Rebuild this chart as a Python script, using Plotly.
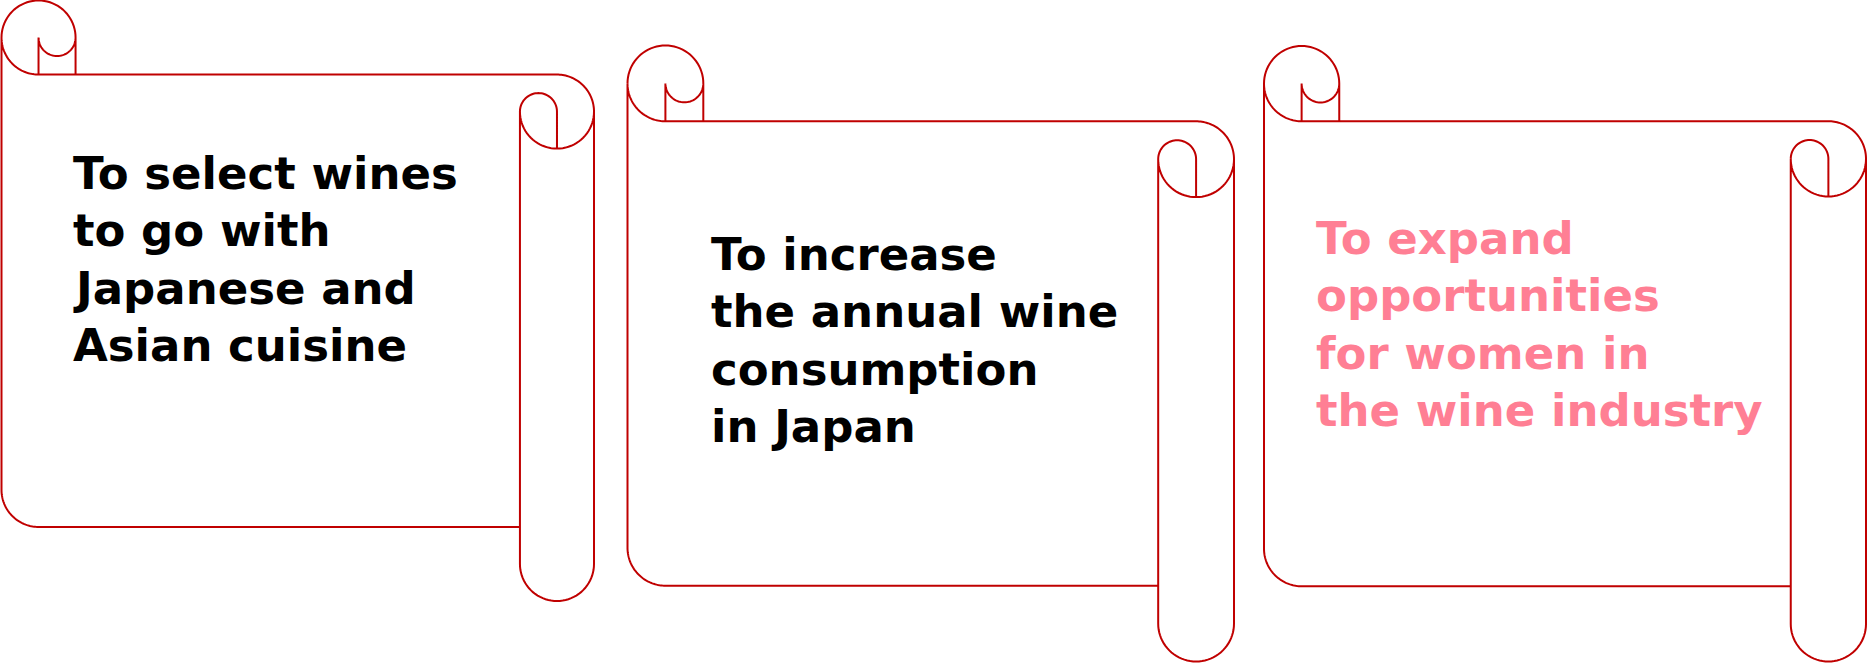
import math
import plotly.graph_objects as go

# three scroll cards: bounding boxes (left, top, right, bottom) in page pixels
scroll_boxes = [
    (1.5, 0.5, 594, 601),
    (627.5, 45.5, 1234, 661.5),
    (1264, 46, 1866, 661.5),
]

card_lines = [
    ["To select wines", "to go with", "Japanese and", "Asian cuisine"],
    ["To increase", "the annual wine", "consumption", "in Japan"],
    ["To expand", "opportunities", "for women in", "the wine industry"],
]
card_colors = ["#000000", "#000000", "#FF7F94"]
text_left = [71, 709, 1314]
first_baseline = [188, 269, 253]

LINE = "#C00000"
W, H = 1867, 663
FONT_SIZE = 45
LINE_GAP = 57.3


def arc(cx, cy, r, a0, a1, n=40):
    pts = []
    for i in range(n + 1):
        a = math.radians(a0 + (a1 - a0) * i / n)
        pts.append((cx + r * math.cos(a), cy + r * math.sin(a)))
    return pts


def seg(pts, move=False):
    out = []
    for i, (x, y) in enumerate(pts):
        cmd = "M" if (move and i == 0) else "L"
        out.append(f"{cmd}{x:.2f},{y:.2f}")
    return " ".join(out)


def scroll_path(x0, y0, x1, y1):
    w, h = x1 - x0, y1 - y0
    c = 0.125 * min(w, h)
    c2, c4 = c / 2, c / 4

    def P(x, y):
        return (x0 + x, y0 + y)

    def A(cx, cy, r, a0, a1):
        return [(x0 + px, y0 + py) for px, py in arc(cx, cy, r, a0, a1)]

    parts = []
    # outline
    p = [P(0, h - c - c2), P(0, c2)]
    p += A(c2, c2, c2, 180, 90)
    p += [P(w - c2, c)]
    p += A(w - c2, c + c2, c2, 270, 360)
    p += [P(w, h - c2)]
    p += A(w - c2, h - c2, c2, 0, 180)
    p += [P(w - c, h - c), P(c2, h - c)]
    p += A(c2, h - c - c2, c2, 90, 180)
    parts.append(seg(p, True) + " Z")
    # top-left curl
    parts.append(seg(A(c2, c2, c2, 180, 360) + [P(c, c)], True))
    parts.append(seg(A(c2 + c4, c2, c4, 0, 180) + [P(c2, c)], True))
    # right roll
    parts.append(seg([P(w - c, c + c2), P(w - c, h - c)], True))
    parts.append(seg(A(w - c2, c + c2, c2, 0, 180), True))
    parts.append(seg(A(w - c2 - c4, c + c2, c4, 180, 360) + [P(w - c2, 2 * c)], True))
    return " ".join(parts)


fig = go.Figure()

shapes = []
for box in scroll_boxes:
    shapes.append(dict(
        type="path", xref="x", yref="y",
        path=scroll_path(*box),
        line=dict(color=LINE, width=2),
        fillcolor="rgba(0,0,0,0)",
    ))

annotations = []
for lines, color, xl, yb in zip(card_lines, card_colors, text_left, first_baseline):
    for i, line in enumerate(lines):
        annotations.append(dict(
            x=xl, y=yb + i * LINE_GAP - 43, xref="x", yref="y",
            xanchor="left", yanchor="top", align="left",
            text=line, showarrow=False,
            font=dict(family="DejaVu Sans", size=FONT_SIZE, color=color, weight="bold"),
        ))

fig.update_layout(
    width=W, height=H,
    margin=dict(l=0, r=0, t=0, b=0),
    paper_bgcolor="white", plot_bgcolor="white",
    xaxis=dict(range=[0, W], visible=False, fixedrange=True),
    yaxis=dict(range=[H, 0], visible=False, fixedrange=True),
    shapes=shapes, annotations=annotations,
    showlegend=False,
)

# page body has a default 8px margin; drop it so the figure sits at the window origin
fig.write_html(
    "out.html",
    config={"displayModeBar": False},
    post_script="document.body.style.margin='0';document.body.style.overflow='hidden';",
)
